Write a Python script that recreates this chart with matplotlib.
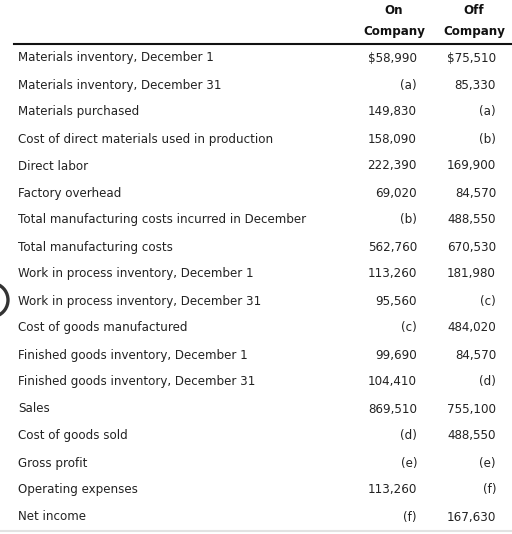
import matplotlib.pyplot as plt
from matplotlib.patches import Arc

labels = [
    "Materials inventory, December 1",
    "Materials inventory, December 31",
    "Materials purchased",
    "Cost of direct materials used in production",
    "Direct labor",
    "Factory overhead",
    "Total manufacturing costs incurred in December",
    "Total manufacturing costs",
    "Work in process inventory, December 1",
    "Work in process inventory, December 31",
    "Cost of goods manufactured",
    "Finished goods inventory, December 1",
    "Finished goods inventory, December 31",
    "Sales",
    "Cost of goods sold",
    "Gross profit",
    "Operating expenses",
    "Net income",
]
on_values = ["$58,990", "(a)", "149,830", "158,090", "222,390", "69,020", "(b)",
             "562,760", "113,260", "95,560", "(c)", "99,690", "104,410",
             "869,510", "(d)", "(e)", "113,260", "(f)"]
off_values = ["$75,510", "85,330", "(a)", "(b)", "169,900", "84,570", "488,550",
              "670,530", "181,980", "(c)", "484,020", "84,570", "(d)",
              "755,100", "488,550", "(e)", "(f)", "167,630"]
headers = [("On", "Company"), ("Off", "Company")]

W, H = 512, 534
fig = plt.figure(figsize=(W / 100, H / 100), dpi=100)
ax = fig.add_axes([0, 0, 1, 1])
ax.set_xlim(0, W)
ax.set_ylim(H, 0)
ax.axis("off")

txt = "#222222"
fs = 8.6

# header
col_centers = [394, 474]
for cx, (h1, h2) in zip(col_centers, headers):
    ax.text(cx, 10, h1, ha="center", va="center", fontsize=fs, fontweight="bold", color="#111111")
    ax.text(cx, 31, h2, ha="center", va="center", fontsize=fs, fontweight="bold", color="#111111")
ax.plot([14, W], [44, 44], color="#111111", lw=1.5)

# rows
y0, dy = 58, 27
for i, (lab, a, b) in enumerate(zip(labels, on_values, off_values)):
    y = y0 + i * dy
    ax.text(18, y, lab, ha="left", va="center", fontsize=fs, color=txt)
    ax.text(417, y, a, ha="right", va="center", fontsize=fs, color=txt)
    ax.text(496, y, b, ha="right", va="center", fontsize=fs, color=txt)

ax.plot([0, W], [531, 531], color="#e2e2e2", lw=1.5)

# partial circle at left edge
ax.add_patch(Arc((-9, 300), 34, 34, theta1=-70, theta2=70, color="#333333", lw=2.4))

fig.savefig("out.png", dpi=100)
